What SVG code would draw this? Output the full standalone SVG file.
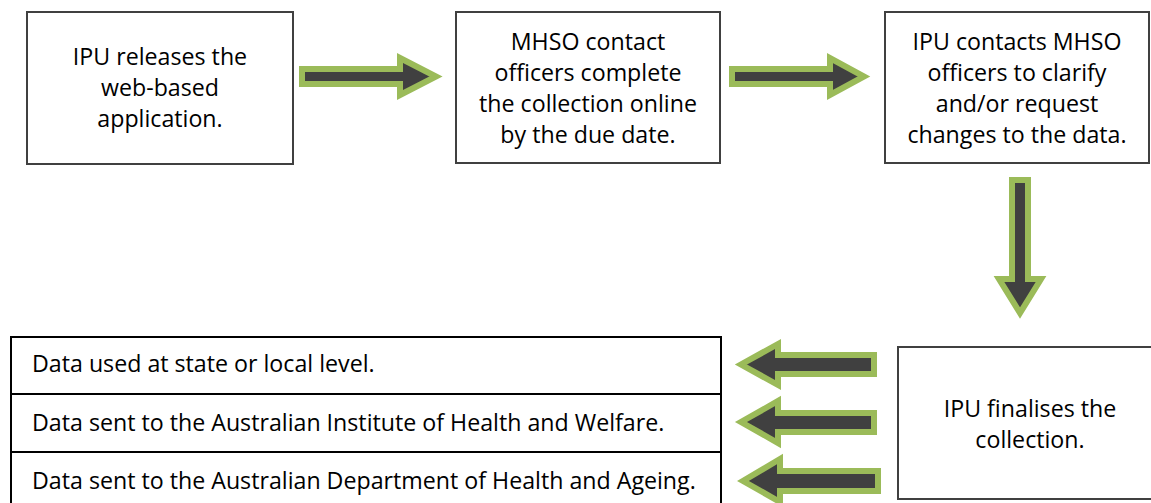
<svg xmlns="http://www.w3.org/2000/svg" width="1151" height="503" viewBox="0 0 1151 503">
<style>
.box{fill:#fff;stroke:#404040;stroke-width:2}
.lbox{fill:#fff;stroke:#000;stroke-width:2}
.t{font-family:"Open Sans","Liberation Sans",sans-serif;font-size:23.2px;fill:#000;text-anchor:middle}
.tl{font-family:"Open Sans","Liberation Sans",sans-serif;font-size:23.2px;fill:#000}
.arr{fill:#404040;stroke:#9BBB59;stroke-width:6;stroke-linejoin:miter}
</style>
<rect width="1151" height="503" fill="#fff"/>
<g id="n1"><rect class="box" x="27" y="12" width="266" height="152"/>
<text class="t" x="160" y="65">IPU releases the</text><text class="t" x="160" y="96">web-based</text><text class="t" x="160" y="127">application.</text></g>
<g id="n2"><rect class="box" x="456" y="12" width="264" height="151"/>
<text class="t" x="588" y="50">MHSO contact</text><text class="t" x="588" y="81">officers complete</text><text class="t" x="588" y="112">the collection online</text><text class="t" x="588" y="143">by the due date.</text></g>
<g id="n3"><rect class="box" x="885" y="12" width="264" height="151"/>
<text class="t" x="1017" y="50">IPU contacts MHSO</text><text class="t" x="1017" y="81">officers to clarify</text><text class="t" x="1017" y="112">and/or request</text><text class="t" x="1017" y="143">changes to the data.</text></g>
<g id="n4"><rect class="box" x="898" y="347" width="262" height="152"/>
<text class="t" x="1030" y="417">IPU finalises the</text><text class="t" x="1030" y="448">collection.</text></g>
<g id="n5"><rect class="lbox" x="11" y="337" width="710" height="57"/><text class="tl" x="32" y="372">Data used at state or local level.</text></g>
<g id="n6"><rect class="lbox" x="11" y="394" width="710" height="58"/><text class="tl" x="32" y="431">Data sent to the Australian Institute of Health and Welfare.</text></g>
<g id="n7"><rect class="lbox" x="11" y="452" width="710" height="60"/><text class="tl" x="32" y="489">Data sent to the Australian Department of Health and Ageing.</text></g>
<g id="connectors">
<polygon class="arr" points="302,69 400,69 400,58 436,76.5 400,95 400,84 302,84"/>
<polygon class="arr" points="732,69 830,69 830,58 864,76.5 830,95 830,84 732,84"/>
<polygon class="arr" points="1012,180 1028,180 1028,279 1041,279 1020,313 999,279 1012,279"/>
<polygon class="arr" points="874,355 778,355 778,344 741,364.5 778,385 778,374 874,374"/>
<polygon class="arr" points="874,413 778,413 778,401 741,422 778,443 778,432 874,432"/>
<polygon class="arr" points="878,471 780,471 780,459 743,481 780,502 780,491 878,491"/>
</g>
</svg>
